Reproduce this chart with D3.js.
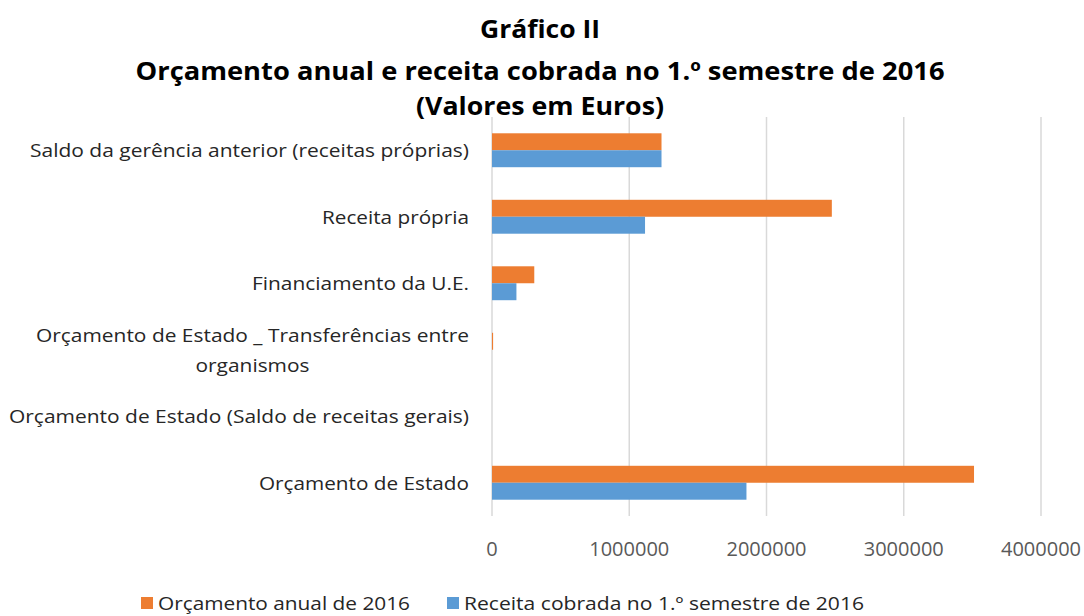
<!DOCTYPE html>
<html>
<head>
<meta charset="utf-8">
<script src="https://cdn.jsdelivr.net/npm/d3@7"></script>
<style>
  body { margin: 0; background: #fff; }
  svg { font-family: "Open Sans", "Noto Sans", sans-serif; }
</style>
</head>
<body>
<div id="chart"></div>
<script>
// categories, top to bottom as drawn
var categories = [
    "Saldo da gerência anterior (receitas próprias)",
    "Receita própria",
    "Financiamento da U.E.",
    "Orçamento de Estado _ Transferências entre organismos",
    "Orçamento de Estado (Saldo de receitas gerais)",
    "Orçamento de Estado"
];
var series_names = ["Orçamento anual de 2016", "Receita cobrada no 1.º semestre de 2016"];
var orcamento = [1235000, 2476000, 308000, 8000, 0, 3512000];
var receita   = [1235000, 1115000, 178000, 0, 0, 1854000];
var x_ticks   = [0, 1000000, 2000000, 3000000, 4000000];
var colors    = ["#ED7D31", "#5B9BD5"];

var width = 1084, height = 616;
var margin = {top: 117, right: 43, bottom: 100, left: 492};

var svg = d3.select("#chart").append("svg")
    .attr("width", width)
    .attr("height", height);

// Title
var titles = ["Gráfico II", "Orçamento anual e receita cobrada no 1.º semestre de 2016", "(Valores em Euros)"];
var title_y = [38, 80, 115];
var title_w = [120, 809, 248];
titles.forEach(function(t, i) {
    svg.append("text")
        .attr("x", 540)
        .attr("y", title_y[i])
        .attr("text-anchor", "middle")
        .attr("font-weight", "bold")
        .attr("font-size", 25)
        .attr("fill", "#000")
        .attr("textLength", title_w[i])
        .attr("lengthAdjust", "spacingAndGlyphs")
        .text(t);
});

// Scales
var x_scale = d3.scaleLinear()
    .domain([0, 4000000])
    .range([margin.left, 1041]);

var y_scale = d3.scaleBand()
    .domain(categories)
    .range([margin.top, 516])
    .paddingInner(0.49)
    .paddingOuter(0.245);

var sub = d3.scaleBand()
    .domain([0, 1])
    .range([0, y_scale.bandwidth()]);

// Gridlines
svg.append("g").selectAll("line")
    .data(x_ticks)
    .enter().append("line")
    .attr("x1", function(d) { return x_scale(d); })
    .attr("x2", function(d) { return x_scale(d); })
    .attr("y1", margin.top)
    .attr("y2", 516)
    .attr("stroke", "#d9d9d9")
    .attr("stroke-width", 1.5);

// Tick labels
svg.append("g").selectAll("text")
    .data(x_ticks)
    .enter().append("text")
    .attr("x", function(d) { return x_scale(d); })
    .attr("y", 556)
    .attr("text-anchor", "middle")
    .attr("font-size", 20)
    .attr("fill", "#595959")
    .text(function(d) { return d; });

// Bars
var data = [orcamento, receita];
data.forEach(function(vals, s) {
    svg.append("g").selectAll("rect")
        .data(vals)
        .enter().append("rect")
        .attr("x", x_scale(0))
        .attr("y", function(d, i) { return y_scale(categories[i]) + sub(s); })
        .attr("width", function(d) { return x_scale(d) - x_scale(0); })
        .attr("height", sub.bandwidth())
        .attr("fill", colors[s]);
});

// Category labels
var label_lines = [
    ["Saldo da gerência anterior (receitas próprias)"],
    ["Receita própria"],
    ["Financiamento da U.E."],
    ["Orçamento de Estado _ Transferências entre", "organismos"],
    ["Orçamento de Estado (Saldo de receitas gerais)"],
    ["Orçamento de Estado"]
];
var label_w = {
    "Saldo da gerência anterior (receitas próprias)": 439,
    "Receita própria": 147,
    "Financiamento da U.E.": 217,
    "Orçamento de Estado _ Transferências entre": 433,
    "organismos": 114,
    "Orçamento de Estado (Saldo de receitas gerais)": 460,
    "Orçamento de Estado": 210
};
var g_labels = svg.append("g");
categories.forEach(function(c, i) {
    var cy = y_scale(c) + y_scale.bandwidth() / 2;
    var lines = label_lines[i];
    if (lines.length == 1) {
        g_labels.append("text")
            .attr("x", 469)
            .attr("y", cy + 7)
            .attr("text-anchor", "end")
            .attr("font-size", 19)
            .attr("fill", "#262626")
            .attr("textLength", label_w[lines[0]])
            .attr("lengthAdjust", "spacingAndGlyphs")
            .text(lines[0]);
    } else {
        var center = 469 - label_w[lines[0]] / 2;
        lines.forEach(function(l, j) {
            g_labels.append("text")
                .attr("x", center)
                .attr("y", cy + 7 + (j - 0.5) * 30)
                .attr("text-anchor", "middle")
                .attr("font-size", 19)
                .attr("fill", "#262626")
                .attr("textLength", label_w[l])
                .attr("lengthAdjust", "spacingAndGlyphs")
                .text(l);
        });
    }
});

// Legend
var legend_x = [141, 447];
var legend_w = [252, 400];
series_names.forEach(function(n, s) {
    svg.append("rect")
        .attr("x", legend_x[s])
        .attr("y", 597)
        .attr("width", 12)
        .attr("height", 12)
        .attr("fill", colors[s]);
    svg.append("text")
        .attr("x", legend_x[s] + 17)
        .attr("y", 610)
        .attr("font-size", 18)
        .attr("fill", "#262626")
        .attr("textLength", legend_w[s])
        .attr("lengthAdjust", "spacingAndGlyphs")
        .text(n);
});
</script>
</body>
</html>
